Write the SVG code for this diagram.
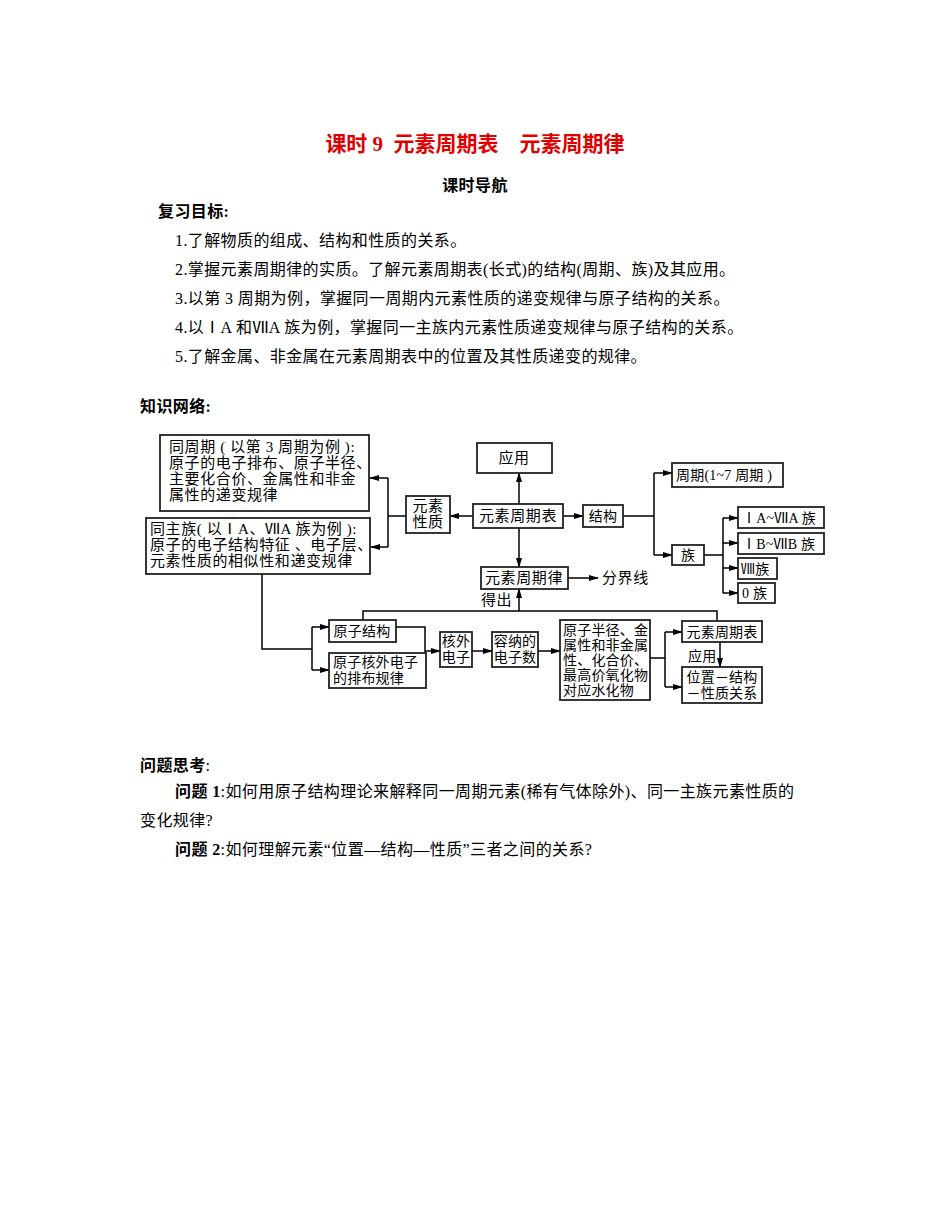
<svg xmlns="http://www.w3.org/2000/svg" width="950" height="1230" viewBox="0 0 950 1230">
<style>
text{font-family:"Liberation Serif","Noto Sans CJK SC",serif;fill:#000}
.t{font-size:16px;letter-spacing:0.4px}
.d{font-size:15px;letter-spacing:0.6px}
.s{font-size:14px;letter-spacing:0.2px}
.b{fill:#fff;stroke:#222;stroke-width:1.8}
.c path,.c line{stroke:#000;stroke-width:1.5;fill:none}
</style>
<defs><marker id="a" markerWidth="10" markerHeight="8" refX="9" refY="4" orient="auto" markerUnits="userSpaceOnUse"><path d="M0,1 L10,4 L0,7 Z" fill="#000"/></marker></defs>
<rect width="950" height="1230" fill="#fff"/>
<text x="475" y="151" text-anchor="middle" xml:space="preserve" style="font-size:21px;font-weight:bold;fill:#e00000">课时 9  元素周期表    元素周期律</text>
<text x="475" y="191" text-anchor="middle" class="t" font-weight="bold">课时导航</text>
<text x="158" y="217" class="t" font-weight="bold">复习目标:</text>
<text x="175" y="246" class="t">1.了解物质的组成、结构和性质的关系。</text>
<text x="175" y="275" class="t">2.掌握元素周期律的实质。了解元素周期表(长式)的结构(周期、族)及其应用。</text>
<text x="175" y="304" class="t">3.以第 3 周期为例，掌握同一周期内元素性质的递变规律与原子结构的关系。</text>
<text x="175" y="333" class="t">4.以ⅠA 和ⅦA 族为例，掌握同一主族内元素性质递变规律与原子结构的关系。</text>
<text x="175" y="362" class="t">5.了解金属、非金属在元素周期表中的位置及其性质递变的规律。</text>
<text x="140" y="412" class="t" font-weight="bold">知识网络:</text>
<g class="c">
<path d="M473,516 H450" marker-end="url(#a)"/>
<path d="M406,516 H388 M388,478 V547"/>
<path d="M388,478 H370" marker-end="url(#a)"/>
<path d="M388,547 H371" marker-end="url(#a)"/>
<path d="M519,504 V473" marker-end="url(#a)"/>
<path d="M519,528 V567" marker-end="url(#a)"/>
<path d="M563,516 H583" marker-end="url(#a)"/>
<path d="M623,516 H654 M654,473 V555"/>
<path d="M654,473 H672" marker-end="url(#a)"/>
<path d="M654,555 H672" marker-end="url(#a)"/>
<path d="M704,555 H723 M723,518 V593"/>
<path d="M723,518 H738" marker-end="url(#a)"/>
<path d="M723,543 H738" marker-end="url(#a)"/>
<path d="M723,568 H738" marker-end="url(#a)"/>
<path d="M723,593 H738" marker-end="url(#a)"/>
<path d="M568,578 H598" marker-end="url(#a)"/>
<path d="M519,611 V589" marker-end="url(#a)"/>
<path d="M363,620 V611 H717 V621"/>
<path d="M262,574 V649 H312 M312,627 V670"/>
<path d="M312,627 H329" marker-end="url(#a)"/>
<path d="M312,670 H329" marker-end="url(#a)"/>
<path d="M396,627 H425 V670 H426"/>
<path d="M425,651 H440" marker-end="url(#a)"/>
<path d="M472,651 H492" marker-end="url(#a)"/>
<path d="M538,651 H560" marker-end="url(#a)"/>
<path d="M650,658 H665 M665,632 V687"/>
<path d="M665,632 H682" marker-end="url(#a)"/>
<path d="M665,687 H682" marker-end="url(#a)"/>
<path d="M720,642 V667" marker-end="url(#a)"/>
</g>
<g id="n1"><rect class="b" x="160" y="435" width="209" height="76"/><text class="d" x="169" y="452">同周期 ( 以第 3 周期为例 ):</text><text class="d" x="169" y="468">原子的电子排布、原子半径、</text><text class="d" x="169" y="484">主要化合价、金属性和非金</text><text class="d" x="169" y="500">属性的递变规律</text></g>
<g id="n2"><rect class="b" x="146" y="518" width="224" height="56"/><text class="d" x="150" y="534">同主族( 以ⅠA、ⅦA 族为例 ):</text><text class="d" x="150" y="550">原子的电子结构特征 、电子层、</text><text class="d" x="150" y="566">元素性质的相似性和递变规律</text></g>
<g id="n3"><rect class="b" x="406" y="496" width="44" height="37"/><text class="d" x="428" y="511" text-anchor="middle">元素</text><text class="d" x="428" y="527" text-anchor="middle">性质</text></g>
<g id="n4"><rect class="b" x="473" y="504" width="90" height="24"/><text class="d" x="518" y="521" text-anchor="middle">元素周期表</text></g>
<g id="n5"><rect class="b" x="477" y="443" width="75" height="30"/><text class="d" x="514" y="463" text-anchor="middle">应用</text></g>
<g id="n6"><rect class="b" x="583" y="505" width="40" height="22"/><text class="s" x="603" y="521" text-anchor="middle">结构</text></g>
<g id="n7"><rect class="b" x="672" y="463" width="111" height="24"/><text class="s" x="676" y="480">周期(1~7 周期 )</text></g>
<g id="n8"><rect class="b" x="672" y="545" width="32" height="20"/><text class="s" x="688" y="560" text-anchor="middle">族</text></g>
<g id="n9"><rect class="b" x="738" y="507" width="86" height="21"/><text class="s" x="742" y="523">ⅠA~ⅦA 族</text></g>
<g id="n10"><rect class="b" x="738" y="533" width="86" height="21"/><text class="s" x="742" y="549">ⅠB~ⅦB 族</text></g>
<g id="n11"><rect class="b" x="738" y="558" width="39" height="21"/><text class="s" x="741" y="574">Ⅷ族</text></g>
<g id="n12"><rect class="b" x="738" y="583" width="37" height="20"/><text class="s" x="742" y="598">0 族</text></g>
<g id="n13"><rect class="b" x="481" y="567" width="87" height="22"/><text class="d" x="524" y="583" text-anchor="middle">元素周期律</text></g>
<text class="d" x="602" y="583">分界线</text>
<text class="d" x="481" y="605">得出</text>
<g id="n14"><rect class="b" x="329" y="620" width="67" height="22"/><text class="s" x="362" y="636" text-anchor="middle">原子结构</text></g>
<g id="n15"><rect class="b" x="329" y="653" width="97" height="35"/><text class="s" x="333" y="667">原子核外电子</text><text class="s" x="333" y="683">的排布规律</text></g>
<g id="n16"><rect class="b" x="440" y="632" width="32" height="35"/><text class="s" x="456" y="646" text-anchor="middle">核外</text><text class="s" x="456" y="662" text-anchor="middle">电子</text></g>
<g id="n17"><rect class="b" x="492" y="632" width="46" height="35"/><text class="s" x="515" y="646" text-anchor="middle">容纳的</text><text class="s" x="515" y="662" text-anchor="middle">电子数</text></g>
<g id="n18"><rect class="b" x="560" y="620" width="90" height="80"/><text class="s" x="563" y="635">原子半径、金</text><text class="s" x="563" y="650">属性和非金属</text><text class="s" x="563" y="665">性、化合价、</text><text class="s" x="563" y="680">最高价氧化物</text><text class="s" x="563" y="695">对应水化物</text></g>
<g id="n19"><rect class="b" x="682" y="621" width="80" height="21"/><text class="s" x="722" y="637" text-anchor="middle">元素周期表</text></g>
<text class="s" x="688" y="661">应用</text>
<g id="n20"><rect class="b" x="682" y="667" width="80" height="36"/><text class="s" x="722" y="682" text-anchor="middle">位置－结构</text><text class="s" x="722" y="698" text-anchor="middle">－性质关系</text></g>
<text x="140" y="771" class="t" font-weight="bold">问题思考<tspan font-weight="normal">:</tspan></text>
<text x="175" y="797" class="t"><tspan font-weight="bold">问题 1</tspan>:如何用原子结构理论来解释同一周期元素(稀有气体除外)、同一主族元素性质的</text>
<text x="140" y="826" class="t">变化规律?</text>
<text x="175" y="855" class="t"><tspan font-weight="bold">问题 2</tspan>:如何理解元素“位置—结构—性质”三者之间的关系?</text>
</svg>
